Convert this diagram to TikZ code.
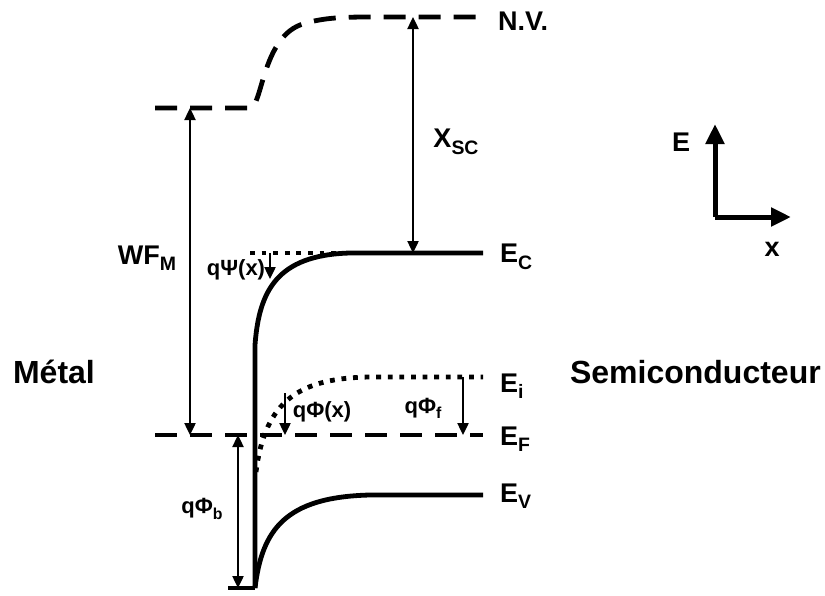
\documentclass[tikz,border=0pt]{standalone}
\usepackage{fontspec}
\setmainfont{Liberation Sans}
\usetikzlibrary{arrows.meta}

% lowered, smaller subscript
\newcommand{\lowsub}[1]{\raisebox{-0.45ex}{\scalebox{0.72}{#1}}}

\begin{document}
\begin{tikzpicture}[x=0.5pt,y=-0.5pt,
    level/.style={line width=2.4pt},
    dashlevel/.style={line width=2.4pt, dash pattern=on 11pt off 6.5pt},
    dotlevel/.style={line width=2.4pt, dash pattern=on 2.4pt off 3.4pt},
    gap/.style={line width=1.2pt, {Triangle[length=6pt,width=5.5pt]}-{Triangle[length=6pt,width=5.5pt]}},
    drop/.style={line width=1.2pt, -{Triangle[length=6pt,width=5.5pt]}},
    axis/.style={line width=2.5pt, -{Triangle[length=10pt,width=9pt]}},
    biglabel/.style={font=\fontsize{16}{18}\selectfont\bfseries},
    lvllabel/.style={font=\fontsize{13.5}{16}\selectfont\bfseries, anchor=west},
    smalllabel/.style={font=\fontsize{11}{13}\selectfont\bfseries}]

    \useasboundingbox (0,0) rectangle (825,595);

    % Define the points of the levels
    \coordinate (vacM) at (155,108);
    \coordinate (vacK) at (250,108);
    \coordinate (vacS) at (370,17);
    \coordinate (vacE) at (483,17);
    \coordinate (fermiW) at (155,435);
    \coordinate (fermiE) at (483,435);
    \coordinate (condI) at (255,345);
    \coordinate (condF) at (350,253);
    \coordinate (condE) at (483,253);
    \coordinate (valB) at (255,588);
    \coordinate (valF) at (370,495);
    \coordinate (valE) at (483,495);
    \coordinate (intB) at (256,472);
    \coordinate (intF) at (370,377);
    \coordinate (intE) at (483,377);

    % Vacuum level (N.V.)
    \draw[dashlevel] (vacM) -- (vacK) .. controls (262,108) and (262,40) .. (300,25)
        .. controls (320,18) and (340,17) .. (vacS) -- (vacE);

    % Fermi level
    \draw[dashlevel] (fermiW) -- (fermiE);

    % Conduction band, interface and valence band
    \draw[dotlevel] (250,253) -- (345,253);
    \draw[level] (condE) -- (condF) .. controls (276,255) and (259,292) .. (condI) -- (valB);
    \draw[level] (valB) .. controls (262,530) and (285,497) .. (valF) -- (valE);
    \draw[level] (228,588) -- (valB);

    % Intrinsic level
    \draw[dotlevel] (intB) .. controls (265,400) and (300,378) .. (intF) -- (intE);

    % Energy gaps
    \coordinate (wfT) at (190,108);
    \coordinate (wfB) at (190,435);
    \draw[gap] (wfT) -- (wfB);
    \coordinate (xsT) at (413,17);
    \coordinate (xsB) at (413,253);
    \draw[gap] (xsT) -- (xsB);
    \coordinate (pbT) at (238,435);
    \coordinate (pbB) at (238,588);
    \draw[gap] (pbT) -- (pbB);
    \coordinate (psiT) at (270,253);
    \coordinate (psiB) at (270,279);
    \draw[drop] (psiT) -- (psiB);
    \coordinate (phxT) at (285,393);
    \coordinate (phxB) at (285,435);
    \draw[drop] (phxT) -- (phxB);
    \coordinate (phfT) at (463,377);
    \coordinate (phfB) at (463,435);
    \draw[drop] (phfT) -- (phfB);

    % Labels of the levels
    \node[lvllabel] (nv) at (491,21) {N.V.};
    \node[lvllabel] (ec) at (493,257) {E\lowsub{C}};
    \node[lvllabel] (ei) at (493,386) {E\lowsub{i}};
    \node[lvllabel] (ef) at (493,439) {E\lowsub{F}};
    \node[lvllabel] (ev) at (493,496) {E\lowsub{V}};

    % Labels of the gaps
    \node[lvllabel, anchor=center] (wf) at (147,258) {WF\lowsub{M}};
    \node[lvllabel, anchor=center] (xsc) at (456,142) {X\lowsub{SC}};
    \node[smalllabel] (qpsi) at (236,270) {qΨ(x)};
    \node[smalllabel] (qphx) at (322,412) {qΦ(x)};
    \node[smalllabel] (qphf) at (423,408) {qΦ\lowsub{f}};
    \node[smalllabel] (qphb) at (202,509) {qΦ\lowsub{b}};

    % Sides
    \node[biglabel, anchor=base west] (metal) at (6,383) {Métal};
    \node[biglabel, anchor=base west] (semi) at (563,383) {Semiconducteur};

    % Axes
    \coordinate (axO) at (715,217);
    \coordinate (axE) at (715,124);
    \coordinate (axX) at (791,217);
    \draw[axis] (axO) -- (axE);
    \draw[axis] (axO) -- (axX);
    \node[lvllabel, anchor=center] (elab) at (681,142) {E};
    \node[lvllabel, anchor=center] (xlab) at (772,249) {x};

\end{tikzpicture}
\end{document}
